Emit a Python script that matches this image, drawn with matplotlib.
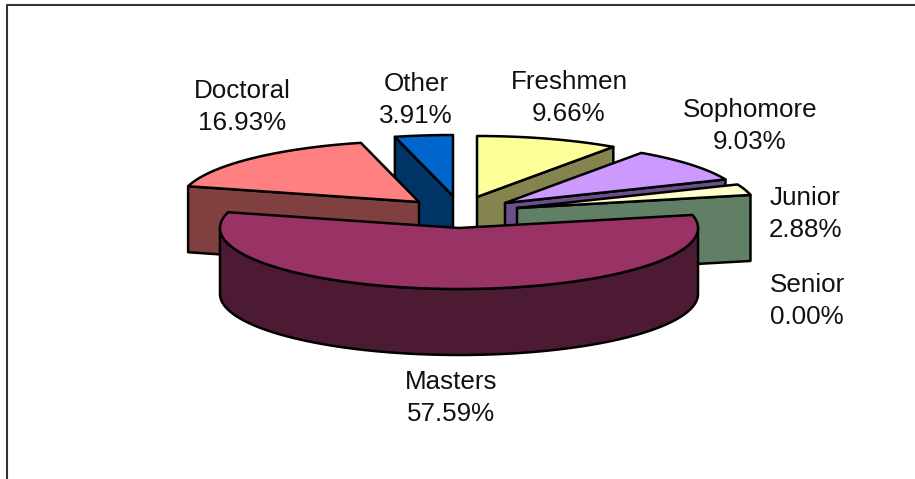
#!/usr/bin/env python3
import numpy as np
import matplotlib
matplotlib.use('Agg')
import matplotlib.pyplot as plt
from matplotlib.patches import Polygon

categories = ['Freshmen', 'Sophomore', 'Junior', 'Senior', 'Masters', 'Doctoral', 'Other']
percent = [9.66, 9.03, 2.88, 0.00, 57.59, 16.93, 3.91]

top_colors = ['#FFFF99', '#CC99FF', '#FFFFCC', '#CCFFCC', '#993366', '#FF8080', '#0066CC']
side_colors = ['#84844F', '#6B4F8C', '#617F64', '#617F64', '#4D1A33', '#804040', '#003366']

# exploded apex of each slice, in pixels
apex = [(477, 197), (505, 203), (517, 208), (517, 208), (459, 228), (419, 202), (453, 196)]
label_pos = [(569, 98), (750, 126), (805, 214), (807, 301), (451, 398), (242, 107), (416, 100)]
draw_order = [6, 0, 5, 1, 2, 3, 4]

RX, RY, DEPTH = 239, 61, 66
LW = 1.8

plt.rcParams['font.family'] = ['Liberation Sans', 'DejaVu Sans']

fig = plt.figure(figsize=(9.15, 4.79), dpi=100)
ax = fig.add_axes([0, 0, 1, 1])
ax.set_xlim(0, 915)
ax.set_ylim(479, 0)
ax.axis('off')

# chart frame, only top and left show
ax.plot([7, 7, 915], [479, 5, 5], color='#333333', lw=1.5, solid_capstyle='butt')


def rim(cx, cy, t0, t1):
    t = np.radians(np.linspace(t0, t1, 120))
    return cx + RX * np.sin(t), cy - RY * np.cos(t)


def face(xs, ys, color, z):
    xy = np.column_stack([xs, ys])
    ax.add_patch(Polygon(xy, closed=True, fc=color, ec='black', lw=LW, joinstyle='round', zorder=z))


edges = np.cumsum([0] + percent) * 3.6
for z, i in enumerate(draw_order):
    t0, t1 = edges[i], edges[i + 1]
    if t1 - t0 <= 0:
        continue
    cx, cy = apex[i]
    z = 2 + z
    # cut faces, only those turned to the viewer
    for t, show in ((t0, np.sin(np.radians(t0)) < -1e-6), (t1, np.sin(np.radians(t1)) > 1e-6)):
        if show:
            px, py = rim(cx, cy, t, t)
            px, py = px[0], py[0]
            face([cx, px, px, cx], [cy, py, py + DEPTH, cy + DEPTH], side_colors[i], z)
    # front wall
    a, b = max(t0, 90), min(t1, 270)
    if b > a:
        rx, ry = rim(cx, cy, a, b)
        face(np.r_[rx, rx[::-1]], np.r_[ry, ry[::-1] + DEPTH], side_colors[i], z)
    # top
    rx, ry = rim(cx, cy, t0, t1)
    face(np.r_[cx, rx], np.r_[cy, ry], top_colors[i], z)

for name, val, (x, y) in zip(categories, percent, label_pos):
    ax.text(x, y, f'{name}\n{val:.2f}%', ha='center', va='center', fontsize=18.7,
            linespacing=1.45, color='#111111', zorder=20)

fig.savefig('out.png', dpi=100)
